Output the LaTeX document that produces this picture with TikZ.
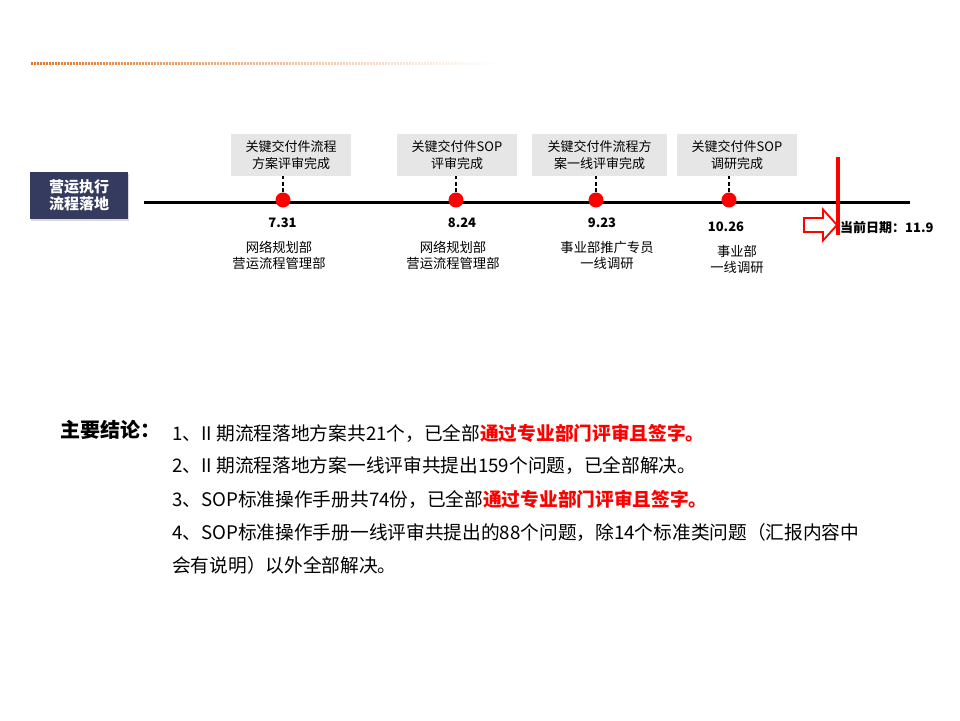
\documentclass[tikz,border=0pt]{standalone}
\usepackage{fontspec}
\setmainfont{Noto Sans CJK SC}
\usetikzlibrary{positioning,shadows}
\definecolor{navy}{HTML}{353B5E}
\definecolor{boxgray}{HTML}{E6E6E6}
\definecolor{hired}{HTML}{FF0000}
\definecolor{lineorange}{HTML}{E2762A}
\definecolor{linesalmon}{HTML}{F4B08E}
\tikzset{
  milebox/.style={fill=boxgray, minimum height=42pt, inner sep=0pt, align=center, font=\fontsize{13}{17}\selectfont},
  miledot/.style={circle, fill=hired, minimum size=15pt, inner sep=0pt},
  datelabel/.style={font=\bfseries\fontsize{13}{15}\selectfont},
  deptlabel/.style={align=center, font=\fontsize{13.3}{16}\selectfont},
  listline/.style={anchor=west, inner sep=0pt, font=\fontsize{18.7}{20}\selectfont},
}
\begin{document}
\begin{tikzpicture}[x=1pt, y=-1pt]
\useasboundingbox (0,0) rectangle (960,720);
% title rule
\shade[left color=lineorange, middle color=linesalmon, right color=white] (30,62) rectangle (500,64.5);
\draw[white, line width=3pt, dash pattern=on 0.7pt off 2.3pt] (30,63.2) -- (500,63.2);
% phase box and time line
\node[fill=navy, text=white, drop shadow={opacity=0.3, shadow xshift=1pt, shadow yshift=-1.5pt}, minimum width=98pt, minimum height=47pt, inner sep=0pt, align=center, font=\bfseries\fontsize{15}{17}\selectfont] (phase) at (79,195.5) {营运执行\\流程落地};
\coordinate (tl-s) at (144,202.5);
\coordinate (tl-e) at (910,202.5);
\draw[line width=3pt] (tl-s) -- (tl-e);
% milestones
\foreach \dx/\bx/\bw/\top/\tx/\date/\dy/\px/\dept [count=\i] in {
    283/291/120/{关键交付件流程\\方案评审完成}/282.5/7.31/0/279/{网络规划部\\营运流程管理部},
    456/457/120/{关键交付件SOP\\评审完成}/462/8.24/0/453/{网络规划部\\营运流程管理部},
    596/599.5/135/{关键交付件流程方\\案一线评审完成}/602/9.23/0/607/{事业部推广专员\\一线调研},
    729/737/120/{关键交付件SOP\\调研完成}/726/10.26/3.5/737/{事业部\\一线调研}} {
  \node[milebox, minimum width=\bw pt] (b\i) at (\bx,155) {\top};
  \node[miledot] (d\i) at (\dx,200) {};
  \draw[line width=2.5pt, dash pattern=on 4pt off 2.5pt] (d\i.north) -- (d\i |- b\i.south);
  \node[datelabel] (t\i) at (\tx,223+\dy) {\date};
  \node[deptlabel] (p\i) at (\px,255.5+\dy) {\dept};
}
% current date
\draw[hired, line width=1.8pt, fill=white] (804,218) -- (823,218) -- (823,209.5) -- (837,225) -- (823,240.5) -- (823,232) -- (804,232) -- cycle;
\coordinate (now-top) at (838,157);
\coordinate (now-bot) at (838,235);
\draw[hired, line width=4pt] (now-top) -- (now-bot);
\node[anchor=west, inner sep=0pt, font=\bfseries\fontsize{13}{15}\selectfont] (now) at (840,228) {当前日期：11.9};
% conclusions
\node[anchor=west, inner sep=0pt, font=\bfseries\fontsize{20}{22}\selectfont] (head) at (60,430) {主要结论：};
\node[listline] (l1) at (172,433) {1、II 期流程落地方案共21个，已全部{\color{hired}\bfseries 通过专业部门评审且签字。}};
\node[listline] (l2) at (172,466) {2、II 期流程落地方案一线评审共提出159个问题，已全部解决。};
\node[listline] (l3) at (172,499) {3、SOP标准操作手册共74份，已全部{\color{hired}\bfseries 通过专业部门评审且签字。}};
\node[listline] (l4) at (172,532) {4、SOP标准操作手册一线评审共提出的88个问题，除14个标准类问题（汇报内容中};
\node[listline] (l5) at (172,565) {会有说明）以外全部解决。};
\end{tikzpicture}
\end{document}
